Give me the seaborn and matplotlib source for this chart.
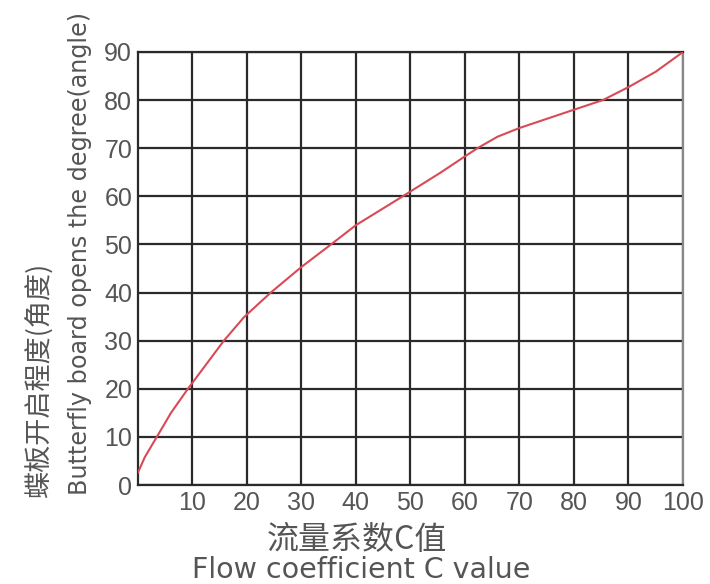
import matplotlib
matplotlib.use("Agg")
import matplotlib.pyplot as plt
import seaborn as sns
import pandas as pd

# Data
flow_c = [0, 1.3, 3.5, 6.1, 9.2, 10, 15.8, 19.5, 24.4, 30, 35.1, 40, 48.6, 50,
          55.5, 60, 62.3, 66, 70, 75, 80, 85.3, 90, 95, 100]
angle = [2.5, 5.8, 10, 15, 20, 21.2, 30, 34.9, 40, 45.3, 49.7, 54.0, 60, 61,
         64.9, 68.3, 70, 72.4, 74.2, 76.1, 78, 80, 82.7, 85.9, 90]
x_ticks = [10, 20, 30, 40, 50, 60, 70, 80, 90, 100]
y_ticks = [0, 10, 20, 30, 40, 50, 60, 70, 80, 90]

sns.set_theme(style="white")
plt.rcParams['font.family'] = ['Liberation Sans', 'Noto Sans CJK SC', 'DejaVu Sans']

df = pd.DataFrame({"C": flow_c, "angle": angle})

fig = plt.figure(figsize=(7.10, 5.84), dpi=100)
ax = fig.add_axes([0.194, 0.1695, 0.768, 0.7415])

grid_color = "#2a2a2a"
for xv in x_ticks:
    ax.axvline(xv, color=grid_color, lw=1.6, zorder=1)
for yv in y_ticks:
    ax.axhline(yv, color=grid_color, lw=1.6, zorder=1)

sns.lineplot(data=df, x="C", y="angle", ax=ax, color="#d84a55", lw=1.5, zorder=3)

ax.set_xlim(0, 100)
ax.set_ylim(0, 90)
ax.set_xticks(x_ticks)
ax.set_yticks(y_ticks)
ax.tick_params(axis="both", length=0, labelsize=18, colors="#555555")
ax.tick_params(axis="x", pad=4)
ax.tick_params(axis="y", pad=4)
for s in ax.spines.values():
    s.set_color(grid_color)
    s.set_linewidth(1.6)
ax.spines["right"].set_color("#888888")
ax.set_xlabel("")
ax.set_ylabel("")

txt = "#555555"
fig.text(357 / 710, 1 - 540 / 584, "流量系数C值", ha="center", va="center", fontsize=23,
         color=txt, family=['Noto Sans CJK SC', 'DejaVu Sans'])
fig.text(361 / 710, 1 - 570 / 584, "Flow coefficient C value", ha="center", va="center",
         fontsize=20.5, color=txt, family=['DejaVu Sans'])
fig.text(40 / 710, 1 - 497 / 584, "蝶板开启程度(角度)", ha="center", va="bottom",
         rotation=90, fontsize=19.5, color=txt, family=['Noto Sans CJK SC', 'DejaVu Sans'])
fig.text(80 / 710, 1 - 495 / 584, "Butterfly board opens the degree(angle)", ha="center",
         va="bottom", rotation=90, fontsize=17.2, color=txt, family=['DejaVu Sans'])

fig.savefig("out.png", dpi=100)
